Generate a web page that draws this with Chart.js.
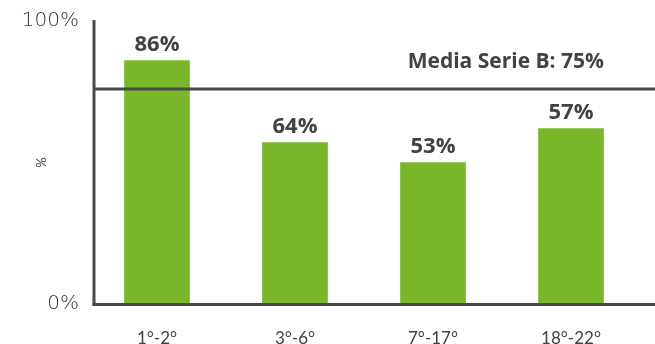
<!DOCTYPE html>
<html>
<head>
<meta charset="utf-8">
<script src="https://cdn.jsdelivr.net/npm/chart.js@4"></script>
<style>
  html, body { margin: 0; padding: 0; background: #fff; }
  #wrap { width: 655px; height: 344px; }
</style>
</head>
<body>
<div id="wrap"><canvas id="chart" width="655" height="344"></canvas></div>
<script>
// chart values
const categories = ["1°-2°", "3°-6°", "7°-17°", "18°-22°"];
const barValues = [86, 57, 50, 62]; // bar heights as drawn
const barLabels = ["86%", "64%", "53%", "57%"]; // text printed above bars
const averageValue = 76;
const averageLabel = "Media Serie B: 75%";
const yTicks = [0, 100];

const ink = "#424242";

// axis lines, average line and labels
const decorations = {
  id: "decorations",
  afterDatasetsDraw(chart) {
    const { ctx, chartArea, scales } = chart;
    const y = scales.y;
    const axisX = chartArea.left + 6;
    ctx.save();
    ctx.strokeStyle = "#4a4a4a";
    ctx.lineWidth = 3;
    // y axis
    ctx.beginPath();
    ctx.moveTo(axisX, chartArea.top - 1);
    ctx.lineTo(axisX, y.getPixelForValue(0) + 1.5);
    ctx.stroke();
    // x axis
    ctx.beginPath();
    ctx.moveTo(axisX - 1.5, y.getPixelForValue(0) + 0.5);
    ctx.lineTo(chart.width, y.getPixelForValue(0) + 0.5);
    ctx.stroke();
    // average line
    const avgY = y.getPixelForValue(averageValue);
    ctx.beginPath();
    ctx.moveTo(axisX, avgY);
    ctx.lineTo(chart.width, avgY);
    ctx.stroke();

    ctx.fillStyle = ink;
    ctx.textAlign = "center";
    ctx.textBaseline = "middle";
    ctx.font = "bold 22px 'Open Sans'";
    chart.getDatasetMeta(0).data.forEach((bar, i) => {
      ctx.fillText(barLabels[i], bar.x, bar.y - 16);
    });
    ctx.font = "bold 21px 'Open Sans'";
    ctx.textAlign = "right";
    ctx.fillText(averageLabel, chartArea.right - 36, avgY - 27);
    ctx.restore();
  }
};

new Chart(document.getElementById("chart"), {
  type: "bar",
  data: {
    labels: categories,
    datasets: [
      {
        data: barValues,
        backgroundColor: "#79b82b",
        borderWidth: 0,
        barThickness: 65,
      },
    ],
  },
  options: {
    responsive: false,
    animation: false,
    layout: { padding: { top: 20, right: 15, left: 0, bottom: 0 } },
    plugins: {
      legend: { display: false },
      tooltip: { enabled: false },
    },
    scales: {
      x: {
        grid: { display: false, drawTicks: false },
        border: { display: false },
        ticks: {
          color: ink,
          font: { family: "Lato", size: 17 },
          padding: 24,
          maxRotation: 0,
        },
        afterFit: (scale) => { scale.height = 40; },
      },
      y: {
        min: 0,
        max: 100,
        grid: { display: false, drawTicks: false },
        border: { display: false },
        afterBuildTicks: (scale) => {
          scale.ticks = yTicks.map((v) => ({ value: v }));
        },
        ticks: {
          color: "#333",
          font: { family: "DejaVu Sans", size: 20, weight: 200 },
          padding: 9,
          callback: (v) => v + "%",
        },
        title: {
          display: true,
          text: "%",
          color: ink,
          font: { family: "Lato", size: 13 },
          padding: { top: 34, bottom: 0 },
        },
        afterFit: (scale) => { scale.width = 88; },
      },
    },
  },
  plugins: [decorations],
});
</script>
</body>
</html>
